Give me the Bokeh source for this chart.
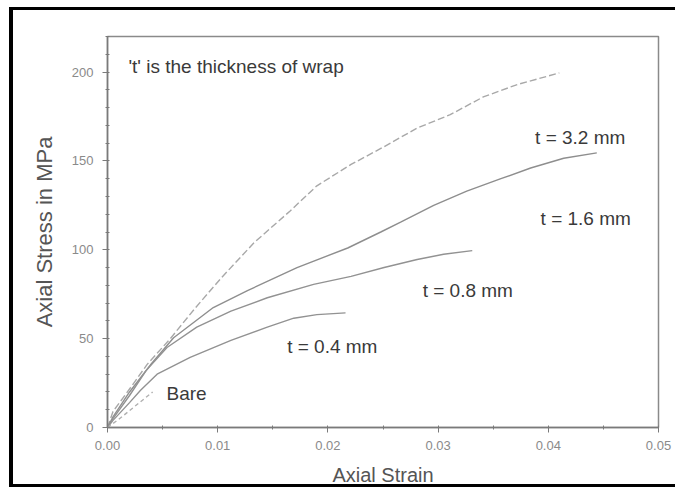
from bokeh.plotting import figure
from bokeh.models import FixedTicker, Label, Range1d
from bokeh.embed import file_html
from bokeh.resources import INLINE

# ---- data ----
x_ticks = [0.0, 0.01, 0.02, 0.03, 0.04, 0.05]
x_tick_labels = ["0.00", "0.01", "0.02", "0.03", "0.04", "0.05"]
x_minor = [0.005, 0.015, 0.025, 0.035, 0.045]
y_ticks = [0, 50, 100, 150, 200]
y_tick_labels = ["0", "50", "100", "150", "200"]
y_minor = [v for v in range(0, 221, 10) if v % 50 != 0]

strain_32 = [0, 0.0005, 0.0021, 0.0036, 0.0057, 0.0080, 0.0103, 0.0133, 0.0166, 0.0190,
             0.0221, 0.0251, 0.0281, 0.0311, 0.0341, 0.0372, 0.0410]
stress_32 = [0, 9, 22.5, 35.5, 50, 67.5, 84, 104, 122, 136, 148, 158, 168.5, 176, 186, 193, 199.5]

strain_16 = [0, 0.0005, 0.0020, 0.0040, 0.0060, 0.0096, 0.0127, 0.0172, 0.0218, 0.0248,
             0.0266, 0.0296, 0.0326, 0.0357, 0.0384, 0.0414, 0.0444]
stress_16 = [0, 6, 20, 36, 50.5, 67.5, 77, 90, 101, 110, 115.5, 125, 133, 140, 146, 151.5, 154.5]

strain_08 = [0, 0.0005, 0.002, 0.0035, 0.0054, 0.0081, 0.0112, 0.0145, 0.0187, 0.0221,
             0.0251, 0.0281, 0.0305, 0.0331]
stress_08 = [0, 5, 18, 32, 45, 56.5, 65.5, 73, 80.5, 85, 90, 94.5, 97.5, 99.5]

strain_04 = [0, 0.0005, 0.002, 0.0030, 0.0045, 0.0075, 0.0112, 0.0145, 0.0169, 0.0190, 0.0216]
stress_04 = [0, 4, 14, 21, 30, 39.5, 49, 56.5, 61.5, 63.5, 64.5]

strain_bare = [0, 0.001, 0.002, 0.003, 0.0041]
stress_bare = [0, 4.5, 9.5, 14.5, 20]

labels = ["'t' is the thickness of wrap", "t = 3.2 mm", "t = 1.6 mm", "t = 0.8 mm", "t = 0.4 mm", "Bare"]
label_x = [0.0019, 0.0388, 0.0393, 0.0286, 0.0163, 0.00535]
label_y = [203.4, 163, 117.4, 77, 45.5, 19.1]

FONT = "Liberation Sans"

p = figure(width=666, height=480, output_backend="svg", toolbar_location=None,
           x_range=Range1d(0, 0.05), y_range=Range1d(0, 220),
           min_border_left=94, min_border_right=21, min_border_top=26, min_border_bottom=63)
p.margin = (7, 0, 0, 9)
p.styles = {"border-left": "4px solid black", "border-top": "3px solid black",
            "border-bottom": "3px solid black"}

p.grid.visible = False
p.outline_line_color = "#8a8a8a"
p.outline_line_width = 1.5
p.background_fill_color = "white"
p.border_fill_color = "white"

for ax in (p.xaxis[0], p.yaxis[0]):
    ax.axis_line_color = "#7a7a7a"
    ax.axis_line_width = 1.5
    ax.major_tick_line_color = "#7a7a7a"
    ax.minor_tick_line_color = "#7a7a7a"
    ax.major_tick_out = 5
    ax.major_tick_in = 2
    ax.minor_tick_out = 2
    ax.minor_tick_in = 2
    ax.major_label_text_font = FONT
    ax.major_label_text_font_size = "13px"
    ax.major_label_text_color = "#8a8a8a"
    ax.axis_label_text_font = FONT
    ax.axis_label_text_font_style = "normal"
    ax.axis_label_text_color = "#555555"

p.xaxis.axis_label_text_font_size = "20px"
p.yaxis.axis_label_text_font_size = "22px"
p.xaxis.ticker = FixedTicker(ticks=x_ticks, minor_ticks=x_minor)
p.xaxis.major_label_overrides = dict(zip(x_ticks, x_tick_labels))
p.yaxis.ticker = FixedTicker(ticks=y_ticks, minor_ticks=y_minor)
p.yaxis.major_label_overrides = dict(zip(y_ticks, y_tick_labels))
p.xaxis.major_label_standoff = 8
p.yaxis.major_label_standoff = 9
p.xaxis.axis_label = "Axial Strain"
p.yaxis.axis_label = "Axial Stress in MPa"
p.xaxis.axis_label_standoff = 11
p.yaxis.axis_label_standoff = 12

p.line(strain_32, stress_32, line_color="#a8a8a8", line_width=1.4, line_dash="7 3")
p.line(strain_16, stress_16, line_color="#8e8e8e", line_width=1.4)
p.line(strain_08, stress_08, line_color="#929292", line_width=1.4)
p.line(strain_04, stress_04, line_color="#929292", line_width=1.4)
p.line(strain_bare, stress_bare, line_color="#b0b0b0", line_width=1.4, line_dash="4 3")

for t, lx, ly in zip(labels, label_x, label_y):
    p.add_layout(Label(x=lx, y=ly, text=t, text_font=FONT, text_font_size="19px",
                       text_color="#3a3a3a", text_baseline="middle", text_align="left"))

open("out.html", "w").write(file_html(p, INLINE))
